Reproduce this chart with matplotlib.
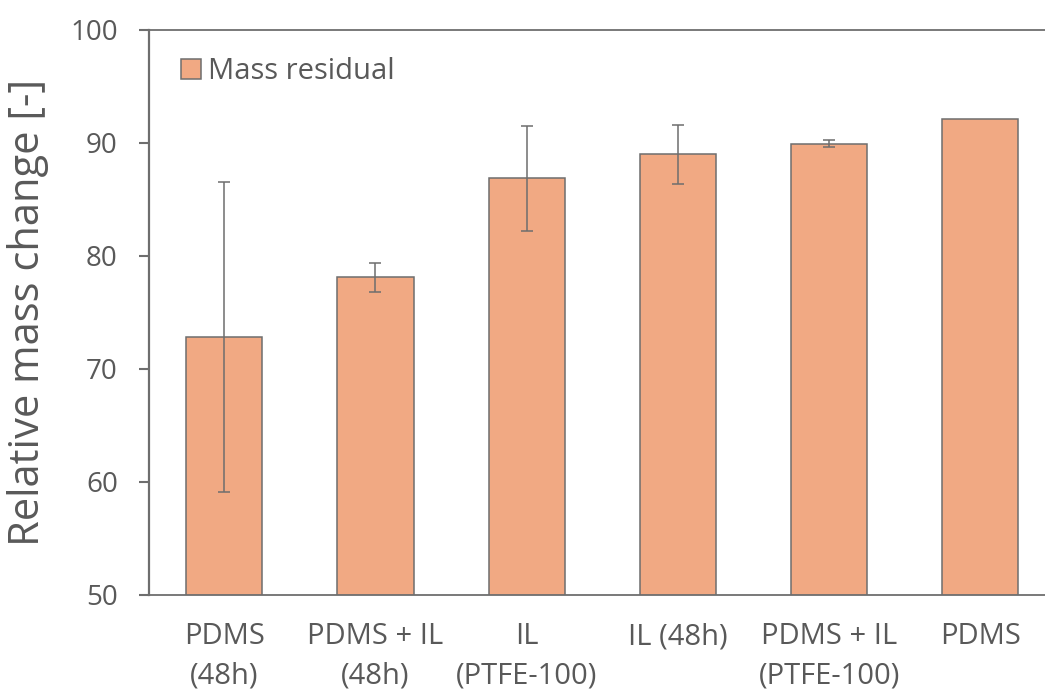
import matplotlib
matplotlib.use("Agg")
import matplotlib.pyplot as plt
import numpy as np

plt.rcParams['font.family'] = ['Open Sans', 'DejaVu Sans']

categories = ["PDMS\n(48h)", "PDMS + IL\n(48h)", "IL\n(PTFE-100)",
              "IL (48h)", "PDMS + IL\n(PTFE-100)", "PDMS"]
mass_residual = [72.84, 78.10, 86.87, 88.99, 89.93, 92.12]
mass_residual_err = [13.74, 1.30, 4.67, 2.60, 0.33, 0.0]
y_ticks = [50, 60, 70, 80, 90, 100]

text_color = "#595959"
bar_color = "#F1A983"
edge_color = "#6E6E6E"

W, H = 1045, 693
fig = plt.figure(figsize=(W / 100, H / 100), dpi=100)
ax = fig.add_axes([148.7 / W, (H - 594.7) / H, 907.2 / W, 564.7 / H])

x = np.arange(len(categories))
ax.bar(x, mass_residual, width=0.503, color=bar_color, edgecolor=edge_color,
       linewidth=1.1, label="Mass residual", zorder=2)
err_idx = [i for i, e in enumerate(mass_residual_err) if e > 0]
ax.errorbar(x[err_idx], np.array(mass_residual)[err_idx],
            yerr=np.array(mass_residual_err)[err_idx], fmt="none",
            ecolor=edge_color, elinewidth=1.1, capsize=4.2, capthick=1.1,
            zorder=3)

ax.set_xlim(-0.5, len(categories) - 0.5)
ax.set_ylim(50, 100)
ax.set_yticks(y_ticks)
ax.set_xticks(x)
ax.set_xticklabels(categories, linespacing=1.45)

for side in ["left", "bottom", "top"]:
    ax.spines[side].set_color(edge_color)
ax.spines["left"].set_linewidth(1.6)
ax.spines["bottom"].set_linewidth(1.3)
ax.spines["top"].set_linewidth(1.3)
ax.spines["right"].set_visible(False)

ax.tick_params(axis="y", direction="out", length=7.2, width=1.5,
               color=edge_color, labelsize=20, labelcolor=text_color, pad=15)
ax.tick_params(axis="x", length=0, labelsize=21, labelcolor=text_color,
               pad=20)

ax.set_ylabel("Relative mass change [-]", fontsize=30, color=text_color)
ax.yaxis.set_label_coords(-100 / 907.2, 0.5)

leg = ax.legend(loc="upper left", bbox_to_anchor=(0.016, 0.983),
                frameon=False, fontsize=21, handlelength=0.7,
                handleheight=0.7, handletextpad=0.25, borderaxespad=0.2)
for t in leg.get_texts():
    t.set_color(text_color)

fig.savefig("out.png", dpi=100)
